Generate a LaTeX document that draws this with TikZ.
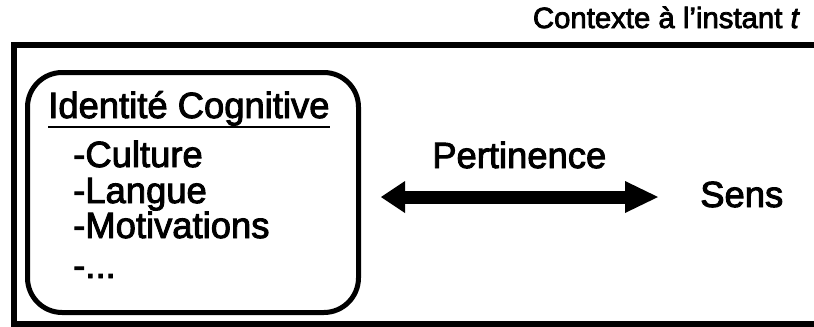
\documentclass[tikz,border=0pt]{standalone}
\usepackage{fontspec}
\setmainfont{Liberation Sans}[BoldFont={Liberation Sans}, BoldItalicFont={Liberation Sans Italic}, BoldFeatures={FakeBold=2.6}, BoldItalicFeatures={FakeBold=2.6}]
\usetikzlibrary{arrows.meta}
\begin{document}
\begin{tikzpicture}[x=0.75pt,y=-0.75pt,
  txt/.style={inner sep=0pt, anchor=base west, font=\fontsize{27.3}{32}\selectfont\bfseries},
  toplbl/.style={inner sep=0pt, anchor=base east, font=\fontsize{22}{26}\selectfont\bfseries},
  frame/.style={draw, line width=4.5pt, anchor=north west, inner sep=0pt},
  idframe/.style={draw, line width=3.75pt, rounded corners=26pt, anchor=north west, inner sep=0pt},
  bigarrow/.style={line width=9.75pt,
    {Triangle[length=18pt,width=24pt,line width=0pt]}-{Triangle[length=24.75pt,width=24pt,line width=0pt]}}]
\useasboundingbox (0,0) rectangle (814,326);
\clip (0,0) rectangle (814,326);
% outer context frame (right side beyond picture)
\node[frame, minimum width=667pt, minimum height=209.6pt] (ctx) at (10.5,41.5) {};
\node[toplbl] (ctxlbl) at (800,28) {Contexte à l’instant \textit{t}};
% identity box
\node[idframe, minimum width=248.25pt, minimum height=180pt] (idbox) at (25,70) {};
\node[txt] (head) at (48,118) {Identité Cognitive};
\draw[line width=2pt] ([yshift=-6.75pt]head.base west) -- ([yshift=-6.75pt]head.base east);
\node[txt] (cult) at (73,167) {-Culture};
\node[txt] (lang) at (73,203) {-Langue};
\node[txt] (motiv) at (73,238) {-Motivations};
\node[txt] (etc) at (73,278) {-...};
% relation
\node[txt] (pert) at (432,168) {Pertinence};
\node[txt] (sens) at (700,207) {Sens};
\coordinate (al) at (381,197);
\coordinate (ar) at (658,197);
\draw[bigarrow] (al) -- (ar);
\end{tikzpicture}
\end{document}
